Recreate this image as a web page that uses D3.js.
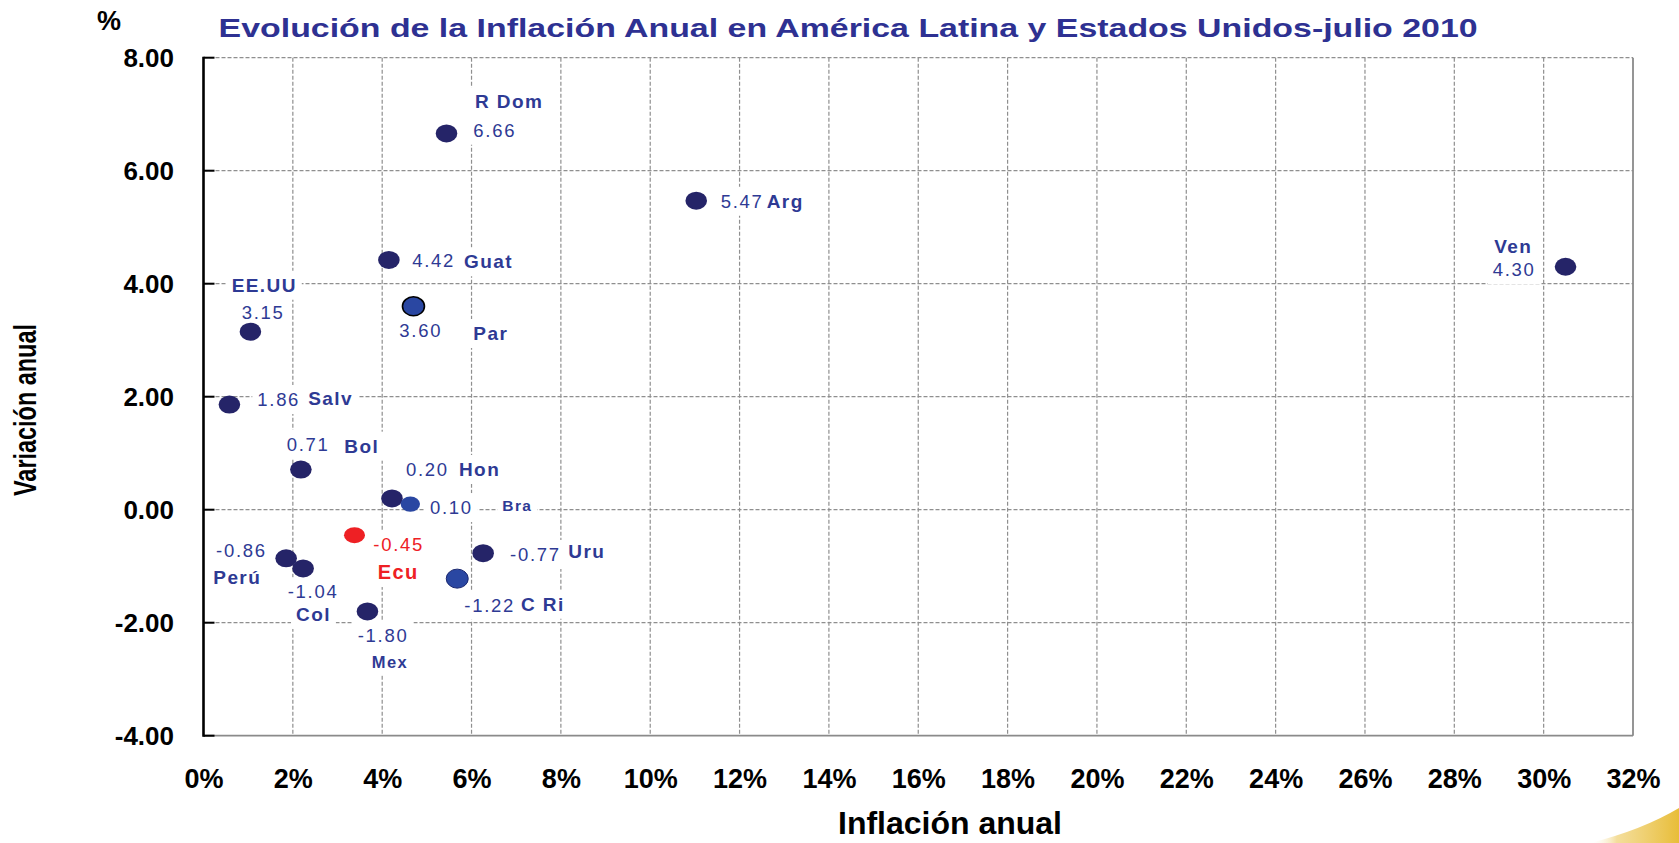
<!DOCTYPE html>
<html><head><meta charset="utf-8">
<script src="https://cdn.jsdelivr.net/npm/d3@7/dist/d3.min.js"></script>
<style>
body{margin:0;background:#fff;}
svg{display:block;font-family:"Liberation Sans",Arial,sans-serif;}
</style>
</head><body>
<svg id="chart" width="1679" height="843"></svg>
<script>
// ---------- data ----------
const countries = ["R Dom","Arg","Ven","Guat","Par","EE.UU","Salv","Bol","Hon","Bra","Ecu","Uru","Perú","Col","C Ri","Mex"];
const inflation = [5.44, 11.03, 30.49, 4.15, 4.70, 1.05, 0.58, 2.18, 4.22, 4.63, 3.38, 6.26, 1.85, 2.23, 5.68, 3.67]; // % (x)
const variation = [6.66, 5.47, 4.30, 4.42, 3.60, 3.15, 1.86, 0.71, 0.20, 0.10, -0.45, -0.77, -0.86, -1.04, -1.22, -1.80]; // (y)
const xTickValues = [0,2,4,6,8,10,12,14,16,18,20,22,24,26,28,30,32];
const yTickValues = [-4,-2,0,2,4,6,8];
const titleText = "Evolución de la Inflación Anual en América Latina y Estados Unidos-julio 2010";
const xTitleText = "Inflación anual";
const yTitleText = "Variación anual";
const unitText = "%";

// ---------- layout / style (not data) ----------
const labelLayout = {
  "R Dom": {v:[26.8,3.3],   n:[28.5,-25.1]},
  "Arg":   {v:[24.5,7.1],   n:[70.5,7.1]},
  "Ven":   {v:[-72.8,9.3],  n:[-71.2,-13.4]},
  "Guat":  {v:[23.4,6.7],   n:[75.1,8.3]},
  "Par":   {v:[-14.1,31],   n:[59.9,33.7]},
  "EE.UU": {v:[-8.7,-12.7], n:[-18.7,-40]},
  "Salv":  {v:[27.9,1.4],   n:[78.9,0.4]},
  "Bol":   {v:[-14.2,-18.6],n:[43.4,-16.9]},
  "Hon":   {v:[14,-22.4],   n:[67,-22.4]},
  "Bra":   {v:[19.7,10],    n:[92,6.6]},
  "Ecu":   {v:[18.8,15.9],  n:[23.2,43.9]},
  "Uru":   {v:[26.9,7.8],   n:[85.2,5.1]},
  "Perú":  {v:[-70.1,-1.6], n:[-72.8,25.7]},
  "Col":   {v:[-15.4,29.8], n:[-7.1,52.5]},
  "C Ri":  {v:[7.1,33.1],   n:[63.8,32.1]},
  "Mex":   {v:[-9.7,30.3],  n:[4.3,56.9]}
};
const NAVY = "#252468", LIGHTBLUE = "#2a47a2", RED = "#ee2024", TEXTBLUE = "#2e3a94";
function markerOf(name){
  if (name === "Ecu") return {fill:RED, stroke:"none", rx:10.5, ry:8};
  if (name === "Bra") return {fill:LIGHTBLUE, stroke:"none", rx:9.7, ry:7.6};
  if (name === "Par") return {fill:LIGHTBLUE, stroke:"#000", sw:1.6, rx:11, ry:9.5};
  if (name === "C Ri") return {fill:LIGHTBLUE, stroke:"#1b2870", sw:1, rx:11, ry:9.5};
  return {fill:NAVY, stroke:"none", rx:10.8, ry:9};
}
function nameSize(name){
  if (name === "Bra") return 15.5;
  if (name === "Mex") return 16.5;
  if (name === "Ecu") return 20;
  return 19;
}

const svg = d3.select("#chart");
const L = 203.5, R = 1633, T = 57.7, B = 735.7;
const x = d3.scaleLinear().domain([0,32]).range([L,R]);
const y = d3.scaleLinear().domain([-4,8]).range([B,T]);

// defs gradient for corner swoosh
const defs = svg.append("defs");
const grad = defs.append("linearGradient").attr("id","sw").attr("x1","0").attr("x2","1").attr("y1","0").attr("y2","0");
grad.append("stop").attr("offset","0").attr("stop-color","#ffffff").attr("stop-opacity",0);
grad.append("stop").attr("offset","0.3").attr("stop-color","#f2d88a").attr("stop-opacity",0.85);
grad.append("stop").attr("offset","1").attr("stop-color","#e8bd38");

// swoosh
svg.append("path")
  .attr("d","M1590,843 Q1642,830 1679,808 L1679,843 Z")
  .attr("fill","url(#sw)");

// grid
const grid = svg.append("g");
grid.selectAll("line.h").data(yTickValues.filter(d=>d>-4)).join("line")
  .attr("x1",L).attr("x2",R).attr("y1",d=>y(d)).attr("y2",d=>y(d))
  .attr("stroke","#8f8f8f").attr("stroke-width",1.2).attr("stroke-dasharray","4,2");
grid.selectAll("line.v").data(xTickValues.filter(d=>d>0 && d<32)).join("line")
  .attr("x1",d=>x(d)).attr("x2",d=>x(d)).attr("y1",T).attr("y2",B)
  .attr("stroke","#8f8f8f").attr("stroke-width",1.2).attr("stroke-dasharray","4,2");
// right & bottom borders
grid.append("line").attr("x1",R).attr("x2",R).attr("y1",T).attr("y2",B).attr("stroke","#8a8a8a").attr("stroke-width",1.8);
grid.append("line").attr("x1",L).attr("x2",R).attr("y1",B).attr("y2",B).attr("stroke","#8a8a8a").attr("stroke-width",1.8);

// label boxes layer (white text boxes)
const boxLayer = svg.append("g");

// y axis
const yAxis = svg.append("g").attr("transform",`translate(${L},0)`)
  .call(d3.axisLeft(y).tickValues(yTickValues).tickFormat(d=>d.toFixed(2)).tickSize(0).tickPadding(29.5));
yAxis.select(".domain").remove();
yAxis.selectAll("text").attr("font-size",26).attr("font-weight","bold").attr("fill","#000")
  .attr("font-family","'Liberation Sans',Arial,sans-serif");

// x axis
const xAxis = svg.append("g").attr("transform",`translate(0,${B})`)
  .call(d3.axisBottom(x).tickValues(xTickValues).tickFormat(d=>d+"%").tickSize(0).tickPadding(33));
xAxis.select(".domain").remove();
xAxis.selectAll("text").attr("font-size",27).attr("font-weight","bold").attr("fill","#000")
  .attr("font-family","'Liberation Sans',Arial,sans-serif");

// points
const data = countries.map((c,i)=>({name:c, xv:inflation[i], yv:variation[i]}));
svg.append("g").selectAll("ellipse").data(data).join("ellipse")
  .attr("cx",d=>x(d.xv)).attr("cy",d=>y(d.yv))
  .attr("rx",d=>markerOf(d.name).rx).attr("ry",d=>markerOf(d.name).ry)
  .attr("fill",d=>markerOf(d.name).fill)
  .attr("stroke",d=>markerOf(d.name).stroke)
  .attr("stroke-width",d=>markerOf(d.name).sw||0);

// black left axis line + inner ticks
svg.append("line").attr("x1",L).attr("x2",L).attr("y1",T-1).attr("y2",B+1).attr("stroke","#000").attr("stroke-width",2.6);
svg.append("g").selectAll("line").data(yTickValues).join("line")
  .attr("x1",L).attr("x2",L+11).attr("y1",d=>y(d)).attr("y2",d=>y(d))
  .attr("stroke","#000").attr("stroke-width",2);

// labels
const lab = svg.append("g");
data.forEach(d=>{
  const px = x(d.xv), py = y(d.yv), lay = labelLayout[d.name];
  const col = d.name === "Ecu" ? RED : TEXTBLUE;
  const vt = lab.append("text").attr("x",px+lay.v[0]).attr("y",py+lay.v[1])
    .attr("font-size",18.5).attr("letter-spacing","1.7px").attr("fill",col)
    .text(d.yv.toFixed(2));
  const nt = lab.append("text").attr("x",px+lay.n[0]).attr("y",py+lay.n[1])
    .attr("font-size",nameSize(d.name)).attr("font-weight","bold").attr("letter-spacing","1.4px").attr("fill",col)
    .text(d.name);
  [vt,nt].forEach(t=>{
    const b = t.node().getBBox();
    boxLayer.append("rect").attr("x",b.x-5).attr("y",b.y-4).attr("width",b.width+10).attr("height",b.height+8).attr("fill","#fff");
  });
});

// title
svg.append("text").attr("x",218.6).attr("y",36.8)
  .attr("font-size",26).attr("font-weight","bold").attr("fill","#2e3192")
  .attr("textLength",1259).attr("lengthAdjust","spacingAndGlyphs")
  .text(titleText);

// unit
svg.append("text").attr("x",97).attr("y",30).attr("font-size",27).attr("font-weight","bold").attr("fill","#000").text(unitText);

// axis titles
svg.append("text").attr("x",838).attr("y",834)
  .attr("font-size",31).attr("font-weight","bold").attr("fill","#000")
  .attr("textLength",224).attr("lengthAdjust","spacingAndGlyphs")
  .text(xTitleText);
svg.append("text").attr("transform","translate(36,496) rotate(-90)")
  .attr("font-size",31).attr("font-weight","bold").attr("fill","#000")
  .attr("textLength",172).attr("lengthAdjust","spacingAndGlyphs")
  .text(yTitleText);
</script>
</body></html>
